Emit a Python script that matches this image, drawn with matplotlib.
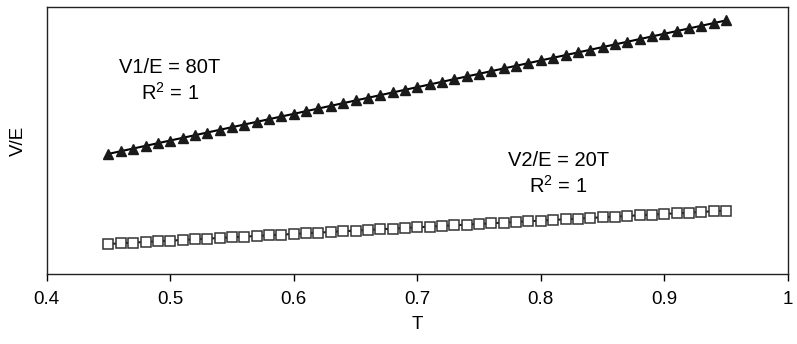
import numpy as np
import matplotlib
matplotlib.use("Agg")
import matplotlib.pyplot as plt

plt.rcParams['font.family'] = ['Liberation Sans', 'DejaVu Sans']

# T values 0.45 .. 0.95 step 0.01
T = [0.45, 0.46, 0.47, 0.48, 0.49, 0.50, 0.51, 0.52, 0.53, 0.54,
     0.55, 0.56, 0.57, 0.58, 0.59, 0.60, 0.61, 0.62, 0.63, 0.64,
     0.65, 0.66, 0.67, 0.68, 0.69, 0.70, 0.71, 0.72, 0.73, 0.74,
     0.75, 0.76, 0.77, 0.78, 0.79, 0.80, 0.81, 0.82, 0.83, 0.84,
     0.85, 0.86, 0.87, 0.88, 0.89, 0.90, 0.91, 0.92, 0.93, 0.94, 0.95]
slope1 = 80
slope2 = 20
v1 = [slope1 * t for t in T]
v2 = [slope2 * t for t in T]
xticks = [0.4, 0.5, 0.6, 0.7, 0.8, 0.9, 1.0]
xticklabels = ['0.4', '0.5', '0.6', '0.7', '0.8', '0.9', '1']

fig = plt.figure(figsize=(7.97, 3.44), dpi=100)
ax = fig.add_axes([0.0586, 0.2035, 0.930, 0.776])

ax.plot(T, v1, color='black', lw=1.5, marker='^', ms=7.5,
        mfc='#1a1a1a', mec='#1a1a1a')
ax.plot(T, v2, color='#222222', lw=1.5, marker='s', ms=6.5,
        mfc='white', mec='#333333', mew=1.1)

ax.set_xlim(0.4, 1.0)
ax.set_ylim(0, 80)
ax.set_xticks(xticks)
ax.set_xticklabels(xticklabels, fontsize=13.5)
ax.set_yticks([])
ax.tick_params(axis='x', direction='out', length=5, width=1, pad=7)
for s in ax.spines.values():
    s.set_linewidth(1.0)
    s.set_color('#222222')

ax.set_xlabel('T', fontsize=13.5, labelpad=6)
ax.set_ylabel('V/E', fontsize=13.5, labelpad=14)

fs = 14.5
ax.text(0.166, 0.772, 'V1/E = 80T', ha='center', va='center', fontsize=fs,
        transform=ax.transAxes)
ax.text(0.166, 0.678, '$\\mathregular{R^2}$ = 1', ha='center', va='center',
        fontsize=fs, transform=ax.transAxes)
ax.text(0.690, 0.427, 'V2/E = 20T', ha='center', va='center', fontsize=fs,
        transform=ax.transAxes)
ax.text(0.690, 0.330, '$\\mathregular{R^2}$ = 1', ha='center', va='center',
        fontsize=fs, transform=ax.transAxes)

fig.savefig('out.png', dpi=100)
